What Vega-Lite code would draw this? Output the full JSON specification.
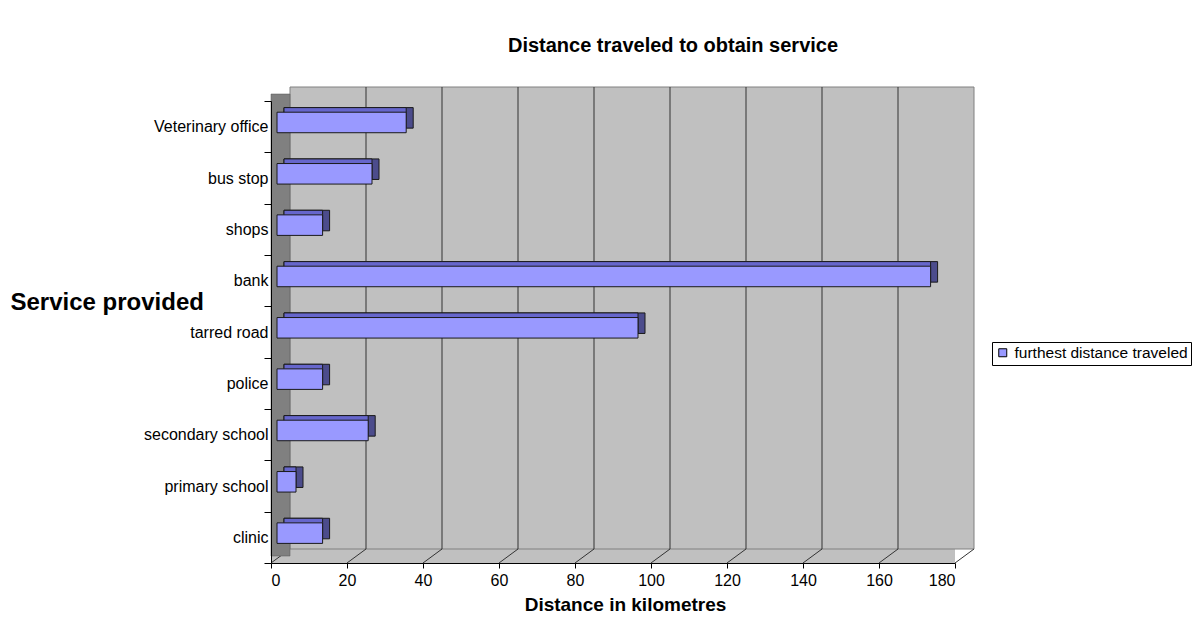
{
  "$schema": "https://vega.github.io/schema/vega-lite/v6.json",
  "width": 684,
  "height": 462,
  "autosize": {"type": "none"},
  "padding": {"left": 271, "top": 101, "right": 241, "bottom": 59},
  "background": "white",
  "title": {"text": "Distance traveled to obtain service", "font": "Liberation Sans", "fontSize": 20, "fontWeight": "bold", "anchor": "middle", "dx": 60, "offset": 31, "color": "black"},
  "config": {
    "view": {"fill": "#c0c0c0", "stroke": null},
    "font": "Liberation Sans",
    "axisX": {"domainColor": "black", "tickColor": "black", "tickSize": 5, "labelFontSize": 16, "labelColor": "black", "labelPadding": 4, "titleFontSize": 19, "titleFontWeight": "bold", "titleColor": "black", "titlePadding": 7, "titleX": 354, "titleAlign": "center", "grid": false},
    "axisY": {"domainColor": "black", "tickColor": "black", "tickSize": 7, "labelFontSize": 16, "labelColor": "black", "labelPadding": -4, "tickBand": "extent", "grid": false, "titleAngle": 0, "titleAlign": "left", "titleBaseline": "middle", "titleX": -261, "titleY": 201, "titleFontSize": 24, "titleFontWeight": "bold", "titleColor": "black"},
    "legend": {"orient": "none", "legendX": 721, "legendY": 241, "strokeColor": "black", "fillColor": "white", "padding": 3, "labelFontSize": 15.5, "labelColor": "black", "labelOffset": 4, "labelLimit": 400, "symbolType": "square", "symbolSize": 64, "symbolStrokeColor": "black", "symbolStrokeWidth": 1, "title": null}
  },
  "datasets": {
    "services": [
      {"service": "Veterinary office", "distance": 34},
      {"service": "bus stop", "distance": 25},
      {"service": "shops", "distance": 12},
      {"service": "bank", "distance": 172},
      {"service": "tarred road", "distance": 95},
      {"service": "police", "distance": 12},
      {"service": "secondary school", "distance": 24},
      {"service": "primary school", "distance": 5},
      {"service": "clinic", "distance": 12}
    ],
    "grid": [{"km": 20}, {"km": 40}, {"km": 60}, {"km": 80}, {"km": 100}, {"km": 120}, {"km": 140}, {"km": 160}],
    "floor": [{"km": 0}, {"km": 20}, {"km": 40}, {"km": 60}, {"km": 80}, {"km": 100}, {"km": 120}, {"km": 140}, {"km": 160}, {"km": 180}],
    "wall": [{"from": 0, "to": 180, "top": "Veterinary office", "bottom": "clinic"}]
  },
  "layer": [
    {
      "data": {"name": "wall"},
      "mark": {"type": "rect", "fill": "#c0c0c0", "stroke": "#808080", "strokeWidth": 1, "xOffset": 19, "x2Offset": 19, "yOffset": -14, "y2Offset": -14},
      "encoding": {
        "x": {"field": "from", "type": "quantitative", "scale": {"domain": [0, 180]}, "axis": {"values": [0, 20, 40, 60, 80, 100, 120, 140, 160, 180], "title": "Distance in kilometres"}},
        "x2": {"field": "to"},
        "y": {"field": "top", "type": "nominal", "bandPosition": 0, "sort": ["Veterinary office", "bus stop", "shops", "bank", "tarred road", "police", "secondary school", "primary school", "clinic"], "scale": {"domain": ["Veterinary office", "bus stop", "shops", "bank", "tarred road", "police", "secondary school", "primary school", "clinic"], "paddingInner": 0, "paddingOuter": 0}, "title": "Service provided"},
        "y2": {"field": "bottom", "bandPosition": 1}
      }
    },
    {
      "data": {"name": "grid"},
      "mark": {"type": "rule", "color": "#333333", "strokeWidth": 1, "xOffset": 19, "yOffset": -14, "y2Offset": -14},
      "encoding": {
        "x": {"field": "km", "type": "quantitative"},
        "y": {"datum": "Veterinary office", "type": "nominal", "bandPosition": 0},
        "y2": {"datum": "clinic", "bandPosition": 1}
      }
    },
    {
      "data": {"name": "floor"},
      "mark": {"type": "rule", "color": "#333333", "strokeWidth": 1, "x2Offset": 19, "y2Offset": -14},
      "encoding": {
        "x": {"field": "km", "type": "quantitative"},
        "x2": {"field": "km"},
        "y": {"datum": "clinic", "type": "nominal", "bandPosition": 1},
        "y2": {"datum": "clinic", "bandPosition": 1}
      }
    },
    {
      "data": {"name": "wall"},
      "mark": {"type": "rect", "fill": "#808080", "stroke": "#555555", "strokeWidth": 0.5, "x2Offset": 19, "yOffset": -7, "y2Offset": -7},
      "encoding": {
        "x": {"field": "from", "type": "quantitative"},
        "x2": {"field": "from"},
        "y": {"field": "top", "type": "nominal", "bandPosition": 0},
        "y2": {"field": "bottom", "bandPosition": 1}
      }
    },
    {
      "data": {"name": "services"},
      "mark": {"type": "bar", "height": {"band": 0.4}, "fill": "#4c4c8c", "stroke": "#1a1a1a", "strokeWidth": 1, "xOffset": 13, "x2Offset": 13, "yOffset": -8.8},
      "encoding": {
        "y": {"field": "service", "type": "nominal"},
        "x": {"field": "distance", "type": "quantitative"},
        "x2": {"datum": 0}
      }
    },
    {
      "data": {"name": "services"},
      "mark": {"type": "bar", "height": {"band": 0.4}, "fill": "#6666cc", "stroke": "#1a1a1a", "strokeWidth": 1, "xOffset": 6, "x2Offset": 13, "yOffset": -8.8},
      "encoding": {
        "y": {"field": "service", "type": "nominal"},
        "x": {"field": "distance", "type": "quantitative"},
        "x2": {"datum": 0}
      }
    },
    {
      "data": {"name": "services"},
      "mark": {"type": "bar", "height": {"band": 0.4}, "stroke": "#1a1a1a", "strokeWidth": 1, "fillOpacity": 1, "xOffset": 6, "x2Offset": 6, "yOffset": -4.2},
      "encoding": {
        "y": {"field": "service", "type": "nominal"},
        "x": {"field": "distance", "type": "quantitative"},
        "x2": {"datum": 0},
        "color": {"datum": "furthest distance traveled", "type": "nominal", "scale": {"range": ["#9999ff"]}}
      }
    }
  ]
}
